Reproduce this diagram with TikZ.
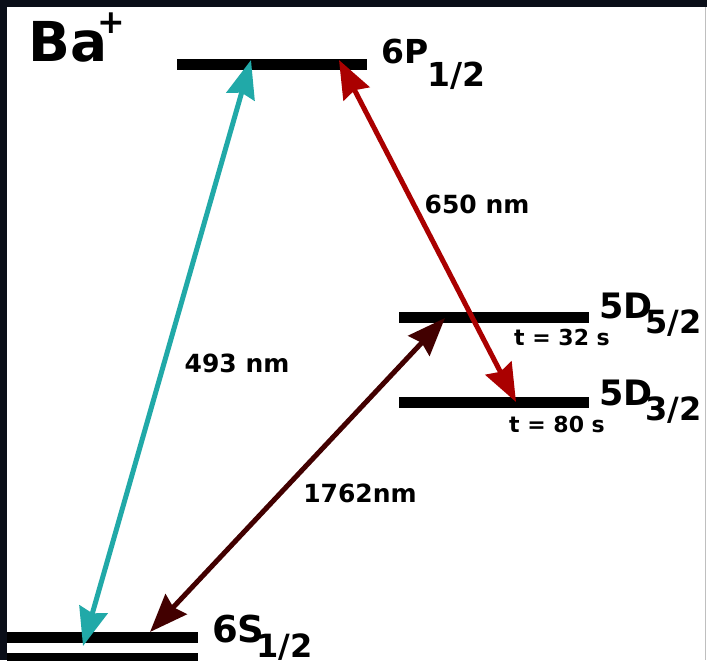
\documentclass[tikz,border=0pt]{standalone}
\usepackage{fontspec}
\setmainfont{DejaVu Sans}
\usetikzlibrary{arrows.meta}
\definecolor{tealc}{HTML}{21A9A8}
\definecolor{redc}{HTML}{AA0000}
\definecolor{darkc}{HTML}{420000}
\definecolor{framec}{HTML}{0A0E18}
\tikzset{
  level/.style={fill=black, draw=none, inner sep=0pt, minimum height=11pt, minimum width=190pt},
  txt/.style={inner sep=0pt, anchor=base west, font=\bfseries\fontsize{#1}{#1}\selectfont},
  arr/.style={line width=5pt, {Stealth[length=38pt,width=29pt,inset=4pt]}-{Stealth[length=38pt,width=29pt,inset=4pt]}},
}
\begin{document}
\begin{tikzpicture}[x=1pt,y=-1pt]
\fill[white] (0,0) rectangle (707,660);
\fill[framec] (0,0) rectangle (707,7);
\fill[framec] (0,0) rectangle (7,660);
\draw[black!25, line width=1pt] (705.5,7) -- (705.5,660);
\useasboundingbox (0,0) rectangle (707,660);
% levels
\node[level] (P12) at (272,64.5) {};
\node[level] (D52) at (494,317) {};
\node[level] (D32) at (494,402.5) {};
\node[level, minimum width=191pt] (S12) at (102.5,637.5) {};
\node[level, minimum width=191pt] (S12b) at (102.5,658) {};
% endpoints
\coordinate (tP) at (251,60);
\coordinate (tS) at (83,646);
\coordinate (rP) at (339,60);
\coordinate (rD) at (516,402);
\coordinate (dD) at (445,318);
\coordinate (dS) at (150,632);
% arrows
\draw[arr, tealc] (tS) -- (tP);
\draw[arr, redc] (rP) -- (rD);
\draw[arr, darkc] (dS) -- (dD);
% labels
\node[txt=55] (ba) at (28,62) {Ba};
\node[txt=33, anchor=base] (plus) at (111,34) {+};
\node[txt=33] (l6p) at (381,64) {6P};
\node[txt=33] (l6ps) at (427,87) {1/2};
\node[txt=35] (l5d5) at (599,318) {5D};
\node[txt=32] (l5d5s) at (645,333) {5/2};
\node[txt=35] (l5d3) at (599,405) {5D};
\node[txt=32] (l5d3s) at (645,420) {3/2};
\node[txt=37] (l6s) at (212,642) {6S};
\node[txt=32] (l6ss) at (256,657) {1/2};
\node[txt=22, anchor=base] (t32) at (562,345) {t = 32 s};
\node[txt=22, anchor=base] (t80) at (557,432) {t = 80 s};
\node[txt=25, anchor=center] (w650) at (477,204) {650 nm};
\node[txt=25, anchor=center] (w493) at (237,363) {493 nm};
\node[txt=25, anchor=center] (w1762) at (360,493) {1762nm};
\end{tikzpicture}
\end{document}
